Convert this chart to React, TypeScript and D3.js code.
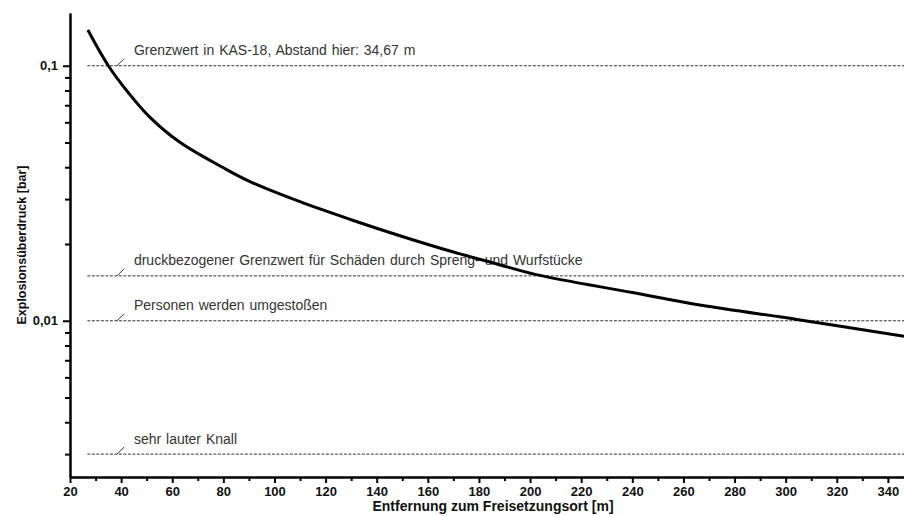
import React, { useEffect, useRef } from "react";
import * as d3 from "d3";

// values (distance in m, overpressure in bar)
const distances = [27, 35, 43, 51, 63, 80, 90, 110, 130, 150, 170, 187, 202, 240, 267, 305, 346.3];
const pressures = [0.138, 0.1, 0.078, 0.0632, 0.0501, 0.0398, 0.0353, 0.0293, 0.0249, 0.0214, 0.0186, 0.0167, 0.0152, 0.0129, 0.0115, 0.0101, 0.0087];

// horizontal limit lines
const limitValues = [0.1, 0.015, 0.01, 0.003];
const limitLabels = [
  "Grenzwert in KAS-18, Abstand hier: 34,67 m",
  "druckbezogener Grenzwert für Schäden durch Spreng- und Wurfstücke",
  "Personen werden umgestoßen",
  "sehr lauter Knall",
];

const xTicks = [20, 40, 60, 80, 100, 120, 140, 160, 180, 200, 220, 240, 260, 280, 300, 320, 340];
const xMinorTicks = [30, 50, 70, 90, 110, 130, 150, 170, 190, 210, 230, 250, 270, 290, 310, 330];
const yTicks = [0.1, 0.01];
const yTickLabels = ["0,1", "0,01"];

const FONT = "'Liberation Sans', Arial, sans-serif";

const App = () => {
  const chartRef = useRef<SVGSVGElement | null>(null);

  useEffect(() => {
    const svg = d3.select(chartRef.current);
    svg.selectAll("*").remove();

    const width = 904;
    const height = 516;
    const margin = { top: 13, right: 0, bottom: 39, left: 70 };

    const x = d3.scaleLinear().domain([20, 346.3]).range([margin.left, width - margin.right]);
    const y = d3.scaleLog().domain([0.00244, 0.161]).range([height - margin.bottom, margin.top]);

    // limit lines with labels
    const limits = svg.append("g");
    limitValues.forEach((v, i) => {
      const yy = y(v);
      limits
        .append("line")
        .attr("x1", x(26.8))
        .attr("x2", x(346.3))
        .attr("y1", yy)
        .attr("y2", yy)
        .attr("stroke", "#333")
        .attr("stroke-width", 1)
        .attr("stroke-dasharray", "3,1.5");
      limits
        .append("line")
        .attr("x1", x(38.4))
        .attr("x2", x(38.4) + 7)
        .attr("y1", yy)
        .attr("y2", yy - 7)
        .attr("stroke", "#333")
        .attr("stroke-width", 1);
      limits
        .append("text")
        .attr("x", x(45))
        .attr("y", yy - 10.5)
        .style("font-family", FONT)
        .style("font-size", "14px")
        .style("word-spacing", "1px")
        .style("fill", "#333")
        .text(limitLabels[i]);
    });

    // the curve
    const line = d3
      .line<number>()
      .x((d, i) => x(distances[i]))
      .y((d) => y(d))
      .curve(d3.curveCatmullRom.alpha(0.5));

    svg
      .append("path")
      .datum(pressures)
      .attr("d", line)
      .attr("fill", "none")
      .attr("stroke", "#000")
      .attr("stroke-width", 3);

    // y axis (minor ticks first, then labelled ones)
    const yMinor = y.ticks().filter((t) => !yTicks.some((m) => Math.abs(m - t) < 1e-9));
    svg
      .append("g")
      .attr("transform", `translate(${margin.left},0)`)
      .call(d3.axisLeft(y).tickValues(yMinor).tickSize(5).tickSizeOuter(0).tickFormat(() => ""));
    svg
      .append("g")
      .attr("transform", `translate(${margin.left},0)`)
      .call(
        d3
          .axisLeft(y)
          .tickValues(yTicks)
          .tickSize(7)
          .tickPadding(5)
          .tickSizeOuter(0)
          .tickFormat((d, i) => yTickLabels[i])
      );

    // x axis
    const xBase = height - margin.bottom;
    svg
      .append("g")
      .attr("transform", `translate(0,${xBase})`)
      .call(d3.axisBottom(x).tickValues(xMinorTicks).tickSize(4).tickSizeOuter(0).tickFormat(() => ""));
    svg
      .append("g")
      .attr("transform", `translate(0,${xBase})`)
      .call(d3.axisBottom(x).tickValues(xTicks).tickSize(6).tickPadding(4).tickSizeOuter(0));

    svg.selectAll(".domain, .tick line").attr("stroke", "#000").attr("stroke-width", 2);
    svg
      .selectAll(".tick text")
      .style("font-family", FONT)
      .style("font-size", "13px")
      .style("font-weight", "bold")
      .attr("fill", "#111");

    // axis titles
    svg
      .append("text")
      .attr("x", 493)
      .attr("y", 511)
      .style("text-anchor", "middle")
      .style("font-family", FONT)
      .style("font-size", "14px")
      .style("font-weight", "bold")
      .style("fill", "#111")
      .text("Entfernung zum Freisetzungsort [m]");

    svg
      .append("text")
      .attr("transform", `translate(26,${(margin.top + xBase) / 2}) rotate(-90)`)
      .style("text-anchor", "middle")
      .style("font-family", FONT)
      .style("font-size", "12.5px")
      .style("font-weight", "bold")
      .style("fill", "#111")
      .text("Explosionsüberdruck [bar]");
  }, []);

  return (
    <svg
      ref={chartRef}
      width={904}
      height={516}
      style={{ position: "absolute", left: 0, top: 0, background: "#fff" }}
    />
  );
};

export default App;
